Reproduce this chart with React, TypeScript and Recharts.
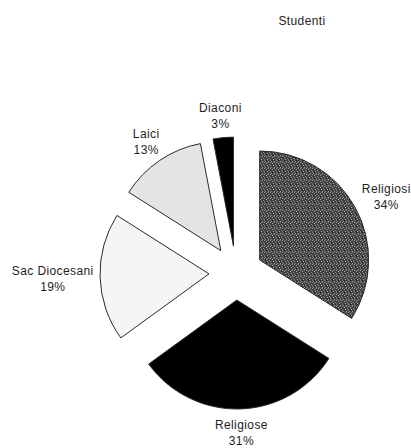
import React from 'react';
import { PieChart, Pie, Cell, Sector } from 'recharts';

const categories = ['Religiosi', 'Religiose', 'Sac Diocesani', 'Laici', 'Diaconi'];
const percents = [34, 31, 19, 13, 3];
const fills = ['url(#stipple)', '#000000', '#f5f5f5', '#e4e4e4', '#000000'];
const title = 'Studenti';

const data = categories.map((name, i) => ({ name, value: percents[i] }));

const RAD = Math.PI / 180;
const EXPLODE = 27;
const FONT = '"Liberation Sans", Arial, sans-serif';

const renderShape = (props: any) => {
  const { cx, cy, midAngle } = props;
  const dx = EXPLODE * Math.cos(-midAngle * RAD);
  const dy = EXPLODE * Math.sin(-midAngle * RAD);
  return <Sector {...props} cx={cx + dx} cy={cy + dy} />;
};

const renderLabel = (props: any) => {
  const { cx, cy, midAngle, outerRadius, name, value } = props;
  const c = Math.cos(-midAngle * RAD);
  const s = Math.sin(-midAngle * RAD);
  const w = String(name).length * 5.9;
  const h = 28;
  const r = outerRadius + 36;
  const x = cx + c * (r + w / 2);
  const y = cy + s * (r + h / 2);
  return (
    <text
      x={x}
      y={y}
      textAnchor="middle"
      fontFamily={FONT}
      fontSize={12}
      letterSpacing={0.4}
      fill="#1e1e1e"
    >
      <tspan x={x} dy={-3}>{name}</tspan>
      <tspan x={x} dy={16}>{`${value}%`}</tspan>
    </text>
  );
};

export default function App() {
  return (
    <div style={{ position: 'absolute', left: 0, top: 0, width: 411, height: 448, background: '#fff' }}>
      <PieChart width={411} height={448} margin={{ top: 0, right: 0, bottom: 0, left: 0 }}>
        <defs>
          <pattern id="stipple" width="6" height="6" patternUnits="userSpaceOnUse">
            <rect width="6" height="6" fill="#404040" />
            <rect x="0" y="0" width="1" height="1" fill="#9a9a9a" />
            <rect x="3" y="0" width="2" height="1" fill="#6e6e6e" />
            <rect x="2" y="1" width="1" height="1" fill="#a8a8a8" />
            <rect x="5" y="2" width="1" height="1" fill="#8c8c8c" />
            <rect x="0" y="3" width="1" height="2" fill="#747474" />
            <rect x="3" y="3" width="1" height="1" fill="#b0b0b0" />
            <rect x="1" y="5" width="1" height="1" fill="#8a8a8a" />
            <rect x="4" y="5" width="1" height="1" fill="#9e9e9e" />
            <rect x="2" y="4" width="1" height="1" fill="#2a2a2a" />
          </pattern>
        </defs>
        <text x={302} y={25} textAnchor="middle" fontFamily={FONT} fontSize={12} letterSpacing={0.4} fill="#1e1e1e">
          {title}
        </text>
        <Pie
          data={data}
          dataKey="value"
          nameKey="name"
          cx={236}
          cy={273}
          outerRadius={109}
          startAngle={90}
          endAngle={-270}
          stroke="#2a2a2a"
          strokeWidth={1}
          shape={renderShape}
          label={renderLabel}
          labelLine={false}
          isAnimationActive={false}
        >
          {data.map((d, i) => (
            <Cell key={d.name} fill={fills[i]} />
          ))}
        </Pie>
      </PieChart>
    </div>
  );
}
